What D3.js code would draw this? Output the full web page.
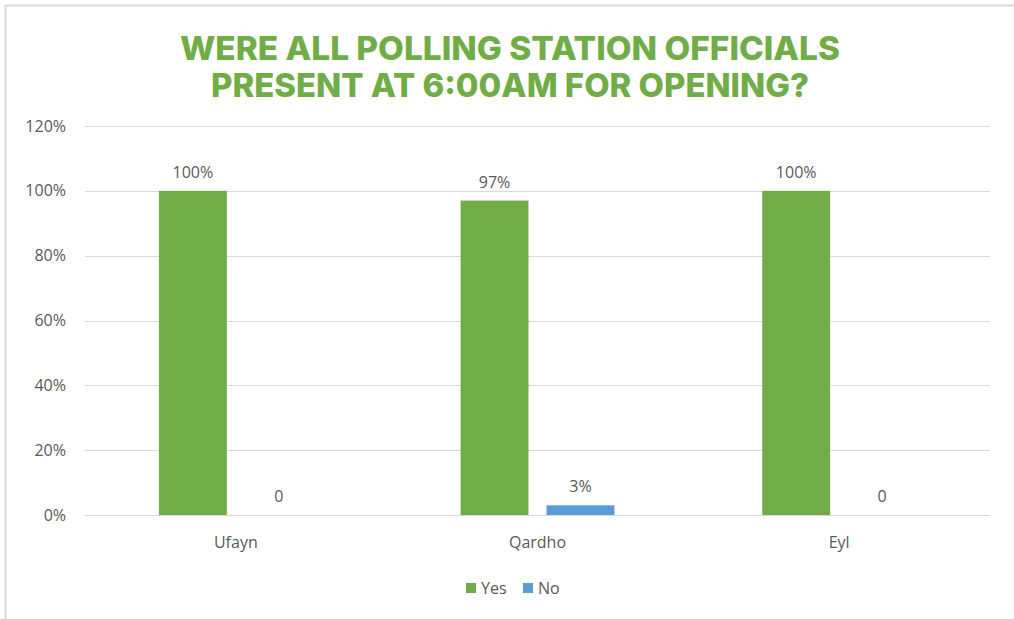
<!DOCTYPE html>
<html>
<head>
<meta charset="utf-8">
<script src="https://cdn.jsdelivr.net/npm/d3@7"></script>
<style>
  html, body { margin: 0; padding: 0; background: #fff; }
  svg { display: block; }
</style>
</head>
<body>
<svg id="chart" width="1014" height="619"></svg>
<script>
// Opening attendance of polling station officials, by district
const categories = ["Ufayn", "Qardho", "Eyl"];
const seriesNames = ["Yes", "No"];
const yesValues = [100, 97, 100];
const noValues = [0, 3, 0];
const yesLabels = ["100%", "97%", "100%"];
const noLabels = ["0", "3%", "0"];
const yTicks = [0, 20, 40, 60, 80, 100, 120];
const titleLines = ["WERE ALL POLLING STATION OFFICIALS", "PRESENT AT 6:00AM FOR OPENING?"];

const colors = { Yes: "#70AD47", No: "#5B9BD5" };
const textColor = "#595959";
const font = "'Open Sans', 'Noto Sans', sans-serif";

const svg = d3.select("#chart");
const W = 1014, H = 619;
const margin = { left: 85, right: 24, top: 126, bottom: 104 };
const plotW = W - margin.left - margin.right;
const plotH = H - margin.top - margin.bottom;

// Chart frame (top and left edges)
svg.append("path")
  .attr("d", `M5.5,${H} V5.5 H${W}`)
  .attr("fill", "none")
  .attr("stroke", "#d9d9d9")
  .attr("stroke-width", 2);

// Title
const title = svg.append("g").attr("font-family", "Inter, 'Open Sans', sans-serif")
  .attr("font-weight", 800).attr("fill", "#70AD47").attr("text-anchor", "middle");
const titleWidths = [660, 598];
titleLines.forEach((t, i) => {
  title.append("text")
    .attr("x", 510)
    .attr("y", 60 + i * 37)
    .attr("font-size", 33)
    .attr("textLength", titleWidths[i])
    .attr("lengthAdjust", "spacingAndGlyphs")
    .text(t);
});

const g = svg.append("g").attr("transform", `translate(${margin.left},${margin.top})`);

const y = d3.scaleLinear().domain([0, 120]).range([plotH, 0]);
const x0 = d3.scaleBand().domain(categories).range([0, plotW]).paddingInner(0).paddingOuter(0);
const x1 = d3.scaleBand().domain(seriesNames).range([0, x0.bandwidth()]).paddingInner(0.21).paddingOuter(0.86);

// Gridlines
g.append("g").selectAll("line").data(yTicks).join("line")
  .attr("x1", 0).attr("x2", plotW)
  .attr("y1", d => Math.round(y(d)) + 0.5).attr("y2", d => Math.round(y(d)) + 0.5)
  .attr("stroke", "#d9d9d9").attr("stroke-width", 1);

// Y axis labels
const yAxis = g.append("g").call(d3.axisLeft(y).tickValues(yTicks).tickFormat(d => d + "%").tickSize(0).tickPadding(19));
yAxis.select(".domain").remove();
yAxis.selectAll("text").attr("font-family", font).attr("font-size", 16).attr("fill", textColor);

// X axis labels
const xAxis = g.append("g").attr("transform", `translate(0,${plotH})`)
  .call(d3.axisBottom(x0).tickSize(0).tickPadding(22));
xAxis.select(".domain").remove();
xAxis.selectAll("text").attr("font-family", font).attr("font-size", 16).attr("fill", textColor);

// Bars
const rows = categories.map((c, i) => ({
  cat: c,
  items: [
    { s: "Yes", v: yesValues[i], label: yesLabels[i] },
    { s: "No", v: noValues[i], label: noLabels[i] }
  ]
}));

const groups = g.append("g").selectAll("g").data(rows).join("g")
  .attr("transform", d => `translate(${x0(d.cat)},0)`);

groups.selectAll("rect").data(d => d.items).join("rect")
  .attr("x", d => x1(d.s))
  .attr("width", x1.bandwidth())
  .attr("y", d => y(d.v))
  .attr("height", d => plotH - y(d.v))
  .attr("fill", d => colors[d.s]);

groups.selectAll("text").data(d => d.items).join("text")
  .attr("x", d => x1(d.s) + x1.bandwidth() / 2)
  .attr("y", d => y(d.v) - 13)
  .attr("text-anchor", "middle")
  .attr("font-family", font).attr("font-size", 16).attr("fill", textColor)
  .text(d => d.label);

// Legend
const legend = svg.append("g").attr("transform", "translate(466,588)");
const legendX = [0, 57];
seriesNames.forEach((s, i) => {
  const lg = legend.append("g").attr("transform", `translate(${legendX[i]},0)`);
  lg.append("rect").attr("x", 0).attr("y", -5).attr("width", 10).attr("height", 10).attr("fill", colors[s]);
  lg.append("text").attr("x", 15).attr("y", 0).attr("dy", "0.35em")
    .attr("font-family", font).attr("font-size", 16).attr("fill", textColor).text(s);
});
</script>
</body>
</html>
